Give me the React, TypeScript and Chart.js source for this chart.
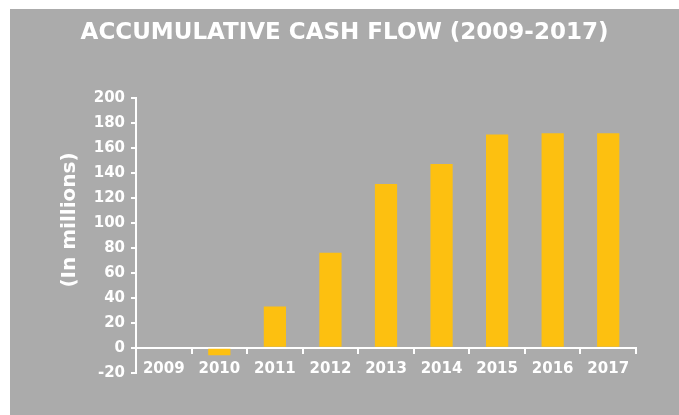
import React, { useEffect, useRef } from "react";
import { Chart, registerables } from "chart.js";

Chart.register(...registerables);

const years = ["2009", "2010", "2011", "2012", "2013", "2014", "2015", "2016", "2017"];
const cashFlow = [0, -6, 33, 76, 131, 147, 170.5, 171.5, 171.5];
const yMin = -20;
const yMax = 200;
const yStep = 20;
const chartTitle = "ACCUMULATIVE CASH FLOW (2009-2017)";
const yAxisTitle = "(In millions)";

const GRAY = "#ABABAB";
const BAR = "#FDC010";
const WHITE = "#FFFFFF";
const FONT = "'DejaVu Sans', sans-serif";

const yTitlePlugin = {
  id: "yTitlePlugin",
  afterDraw(chart: any) {
    const ctx = chart.ctx;
    ctx.save();
    ctx.translate(65, 211);
    ctx.rotate(-Math.PI / 2);
    ctx.font = `bold 20px ${FONT}`;
    ctx.fillStyle = WHITE;
    ctx.textAlign = "center";
    ctx.textBaseline = "alphabetic";
    ctx.fillText(yAxisTitle, 0, 0);
    ctx.restore();
  },
};

export default function App() {
  const ref = useRef<HTMLCanvasElement | null>(null);

  useEffect(() => {
    if (!ref.current) return;
    const chart = new Chart(ref.current, {
      type: "bar",
      data: {
        labels: years,
        datasets: [
          {
            data: cashFlow,
            backgroundColor: BAR,
            borderWidth: 0,
            barPercentage: 0.4,
            categoryPercentage: 1,
          },
        ],
      },
      options: {
        responsive: false,
        animation: false,
        layout: { padding: { left: 0, top: 0, right: 0, bottom: 42.3 } },
        plugins: {
          legend: { display: false },
          tooltip: { enabled: false },
          title: {
            display: true,
            text: chartTitle,
            color: WHITE,
            font: { family: FONT, size: 23, weight: "bold" },
            padding: { top: 10, bottom: 51.1 },
          },
        },
        scales: {
          x: {
            type: "category",
            position: { y: 0 } as any,
            offset: true,
            grid: {
              offset: true,
              drawOnChartArea: false,
              drawTicks: true,
              tickLength: 5,
              color: WHITE,
              lineWidth: 2,
            },
            border: { display: true, color: WHITE, width: 2 },
            ticks: {
              color: WHITE,
              font: { family: FONT, size: 15, weight: "bold" },
              padding: 7,
              maxRotation: 0,
            },
          },
          y: {
            min: yMin,
            max: yMax,
            position: "left",
            afterFit(scale: any) {
              scale.width = 126;
            },
            grid: {
              drawOnChartArea: false,
              drawTicks: true,
              tickLength: 5,
              color: WHITE,
              lineWidth: 2,
            },
            border: { display: true, color: WHITE, width: 2 },
            ticks: {
              stepSize: yStep,
              color: WHITE,
              font: { family: FONT, size: 15, weight: "bold" },
              padding: 6,
            },
          },
          yRight: {
            position: "right",
            min: yMin,
            max: yMax,
            afterFit(scale: any) {
              scale.width = 43;
            },
            grid: { display: false, drawTicks: false },
            border: { display: false },
            ticks: { display: false },
          },
        },
      },
      plugins: [yTitlePlugin],
    });
    return () => chart.destroy();
  }, []);

  return (
    <div
      style={{
        position: "absolute",
        left: 0,
        top: 0,
        width: 679,
        height: 415,
        background: WHITE,
        overflow: "hidden",
      }}
    >
      <div
        style={{
          position: "absolute",
          left: 10,
          top: 9,
          width: 669,
          height: 406,
          background: GRAY,
        }}
      >
        <canvas ref={ref} width={669} height={406} style={{ display: "block" }} />
      </div>
    </div>
  );
}
